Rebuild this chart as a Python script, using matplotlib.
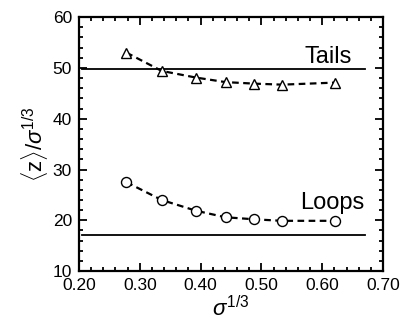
import matplotlib
matplotlib.use("Agg")
import matplotlib.pyplot as plt
from matplotlib.ticker import MultipleLocator, FormatStrFormatter

plt.rcParams['font.family'] = ['Liberation Sans', 'DejaVu Sans']
plt.rcParams['mathtext.fontset'] = 'custom'
plt.rcParams['mathtext.rm'] = 'Liberation Sans'
plt.rcParams['mathtext.it'] = 'Liberation Sans:italic'

# grafting density data
sigma13 = [0.278, 0.336, 0.392, 0.441, 0.488, 0.534, 0.621]
tails = [53.0, 49.4, 48.1, 47.2, 46.9, 46.7, 47.1]
loops = [27.5, 24.0, 21.9, 20.6, 20.2, 19.9, 19.9]
tails_limit = 49.7
loops_limit = 17.1
line_x = [0.205, 0.67]

fig = plt.figure(figsize=(4.0, 3.22), dpi=100)
ax = fig.add_axes([0.1975, 0.158, 0.76, 0.789])

ax.plot(line_x, [tails_limit, tails_limit], 'k-', lw=1.3)
ax.plot(line_x, [loops_limit, loops_limit], 'k-', lw=1.3)
ax.plot(sigma13, tails, '^', ls=(0, (3, 2)), color='k', lw=1.6,
        mfc='white', mec='k', ms=7.5, mew=1.0)
ax.plot(sigma13, loops, 'o', ls=(0, (3, 2)), color='k', lw=1.6,
        mfc='white', mec='k', ms=7.2, mew=1.0)

ax.text(0.648, 50.9, 'Tails', ha='right', va='baseline', fontsize=17)
ax.text(0.670, 22.15, 'Loops', ha='right', va='baseline', fontsize=17)

ax.set_xlim(0.20, 0.70)
ax.set_ylim(10, 60)
ax.xaxis.set_major_locator(MultipleLocator(0.1))
ax.xaxis.set_minor_locator(MultipleLocator(0.02))
ax.yaxis.set_major_locator(MultipleLocator(10))
ax.yaxis.set_minor_locator(MultipleLocator(2))
ax.xaxis.set_major_formatter(FormatStrFormatter('%.2f'))
ax.tick_params(which='both', direction='in', top=True, right=True, width=1.3,
               labelsize=12.5)
ax.tick_params(which='major', length=6)
ax.tick_params(axis='x', which='major', pad=5)
ax.tick_params(axis='y', which='major', pad=5)
ax.tick_params(which='minor', length=3)
for s in ax.spines.values():
    s.set_linewidth(1.6)

ax.set_xlabel(r'$\sigma^{1/3}$', fontsize=16, labelpad=2)
ax.set_ylabel(r'$\langle \mathrm{z}\rangle/\sigma^{1/3}$', fontsize=16, labelpad=2)

fig.savefig('out.png', dpi=100)
